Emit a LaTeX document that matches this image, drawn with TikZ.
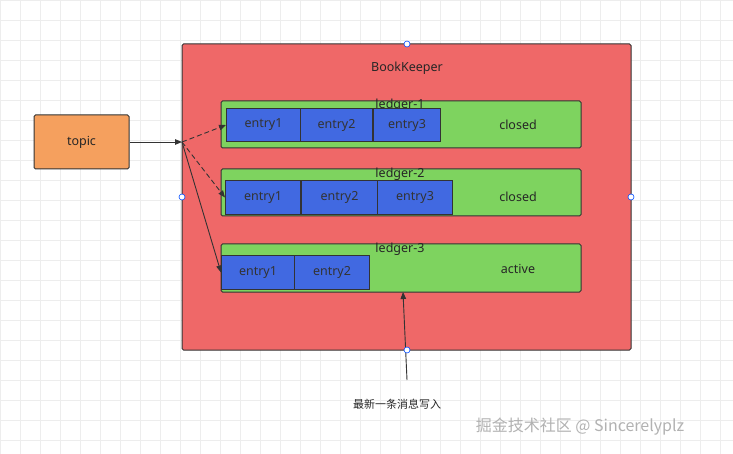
\documentclass[tikz,border=0pt]{standalone}
\usepackage{fontspec}
\setmainfont{Noto Sans}
\newfontfamily\cjk{Noto Sans CJK SC}
\usetikzlibrary{arrows.meta}
\definecolor{bkred}{HTML}{EF6868}
\definecolor{lgreen}{HTML}{7ED35F}
\definecolor{eblue}{HTML}{4169E1}
\definecolor{torange}{HTML}{F5A05E}
\definecolor{dk}{HTML}{333333}
\begin{document}
\begin{tikzpicture}[x=1pt,y=-1pt,
  box/.style={draw=dk,line width=1pt,rounded corners=1.5pt},
  entry/.style={draw=dk,line width=1pt,fill=eblue,text=black!80,font=\fontsize{12.5}{14}\selectfont},
  arr/.style={draw=dk,line width=0.9pt,-{Triangle[length=7pt,width=5.5pt]}},
  handle/.style={circle,draw=blue!70!cyan,fill=white,line width=0.6pt,inner sep=0pt,minimum size=6pt},
  lbl/.style={font=\fontsize{12.5}{14}\selectfont,text=black!85}]
\useasboundingbox (0,0) rectangle (733,454);
\fill[white] (0,0) rectangle (733,454);
\foreach \i in {0,20,...,720} \draw[black!7,line width=0.4pt] (\i,0) -- (\i,454);
\foreach \j in {0,20,...,440} \draw[black!7,line width=0.4pt] (0,\j) -- (733,\j);
\draw[box,fill=bkred] (182,44) rectangle (631,350);
\node[lbl] (bk) at (407,68) {BookKeeper};
\node[box,fill=torange,minimum width=95pt,minimum height=54pt,lbl] (topic) at (81.5,142) {topic};
\coordinate (src) at (182,142);
% ledgers
\draw[box,fill=lgreen] (221,101) rectangle (581,148);
\node[lbl] (l1) at (400,105) {ledger-1};
\draw[box,fill=lgreen] (221,169) rectangle (581,216);
\node[lbl] (l2) at (400,174) {ledger-2};
\draw[box,fill=lgreen] (221,244) rectangle (581,292);
\node[lbl] (l3) at (400,249) {ledger-3};
\node[lbl] (c1) at (518,125) {closed};
\node[lbl] (c2) at (518,197) {closed};
\node[lbl] (a3) at (518,269) {active};
% entries
\node[entry,anchor=north west,minimum width=74pt,minimum height=33pt] (e11) at (226,108) {entry1};
\node[entry,anchor=north west,minimum width=72pt,minimum height=33pt] (e12) at (300,108) {entry2};
\node[entry,anchor=north west,minimum width=67pt,minimum height=33pt] (e13) at (373,108) {entry3};
\node[entry,anchor=north west,minimum width=75pt,minimum height=34pt] (e21) at (225,180) {entry1};
\node[entry,anchor=north west,minimum width=76pt,minimum height=34pt] (e22) at (301,180) {entry2};
\node[entry,anchor=north west,minimum width=75pt,minimum height=34pt] (e23) at (377,180) {entry3};
\node[entry,anchor=north west,minimum width=73pt,minimum height=34pt] (e31) at (221,255) {entry1};
\node[entry,anchor=north west,minimum width=75pt,minimum height=34pt] (e32) at (294,255) {entry2};
% arrows
\draw[arr] (topic.east) -- (src);
\draw[arr,dash pattern=on 5pt off 3pt] (src) -- (e11.west);
\draw[arr,dash pattern=on 5pt off 3pt] (src) -- (e21.west);
\draw[arr] (src) -- (e31.west);
\node[lbl,font=\cjk\fontsize{11}{13}\selectfont] (msg) at (397,404) {最新一条消息写入};
\coordinate (tail) at (407,380);
\coordinate (head) at (403,292);
\draw[arr] (tail) -- (head);
% handles
\node[handle] (h1) at (407,44) {};
\node[handle] (h2) at (182,197) {};
\node[handle] (h3) at (631,197) {};
\node[handle] (h4) at (407,350) {};
\node[font=\cjk\fontsize{16}{18}\selectfont,text=black!30] (wm) at (580,427) {掘金技术社区 @ Sincerelyplz};
\end{tikzpicture}
\end{document}
